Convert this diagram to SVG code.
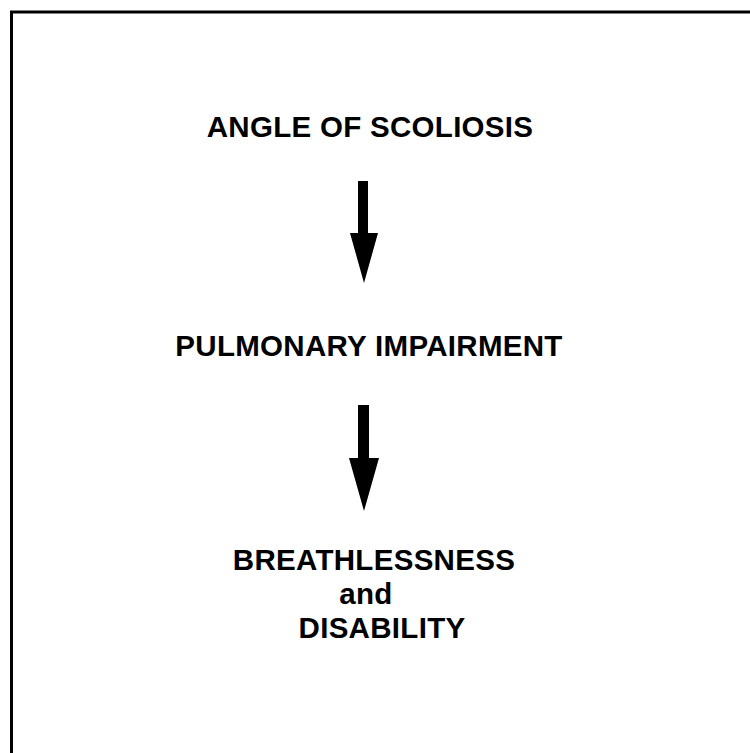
<svg xmlns="http://www.w3.org/2000/svg" width="750" height="753" viewBox="0 0 750 753">
<style>
.t{font-family:"Liberation Sans",Arial,Helvetica,sans-serif;font-weight:bold;font-size:29.5px;fill:#000;text-anchor:middle;letter-spacing:0.3px}
.frame{fill:none;stroke:#000;stroke-width:3}
.arrow{fill:#000;stroke:none}
</style>
<rect width="750" height="753" fill="#fff"/>
<g id="frame">
<path class="frame" d="M11.5,753 V12 H750"/>
</g>
<g id="node-angle"><text class="t" x="370" y="137">ANGLE OF SCOLIOSIS</text></g>
<g id="node-pulmonary"><text class="t" x="369" y="356">PULMONARY IMPAIRMENT</text></g>
<g id="node-breathlessness">
<text class="t" x="374" y="570">BREATHLESSNESS</text>
<text class="t" x="366" y="604">and</text>
<text class="t" x="382" y="638">DISABILITY</text>
</g>
<g id="connectors">
<path class="arrow" d="M358,181 H368 V233 H378 L364,283 L350,233 H358 Z"/>
<path class="arrow" d="M358,405 H369 V458 H379 L364,511 L349,458 H358 Z"/>
</g>
</svg>
